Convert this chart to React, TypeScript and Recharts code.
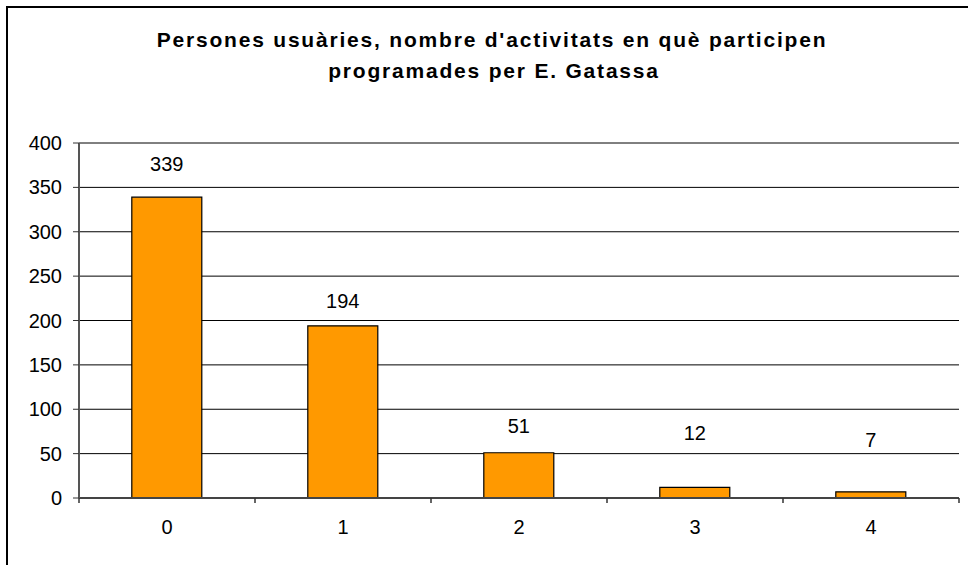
import React from 'react';
import { BarChart, Bar, XAxis, YAxis, CartesianGrid, LabelList } from 'recharts';

const categories = ['0', '1', '2', '3', '4'];
const values = [339, 194, 51, 12, 7];
const yTicks = [0, 50, 100, 150, 200, 250, 300, 350, 400];
const titleLines = [
  "Persones usuàries, nombre d'activitats en què participen",
  'programades per E. Gatassa',
];
// vertical distance (px) of each value label's centre above its bar top
const labelLift = [33, 25, 27, 54, 52];

const data = categories.map((c, i) => ({ cat: c, value: values[i] }));

const FONT = '"Liberation Sans", Arial, sans-serif';

const XTick = (props: any) => {
  const { x, y, payload, index } = props;
  const off = payload && typeof payload.offset === 'number' && payload.offset > 0 ? payload.offset : 88;
  const isLast = index === categories.length - 1;
  return (
    <g>
      <line x1={x - off} y1={y} x2={x - off} y2={y + 5} stroke="#333" strokeWidth={1.5} />
      {isLast && <line x1={x + off} y1={y} x2={x + off} y2={y + 5} stroke="#333" strokeWidth={1.5} />}
      <text x={x} y={y + 22} dy="0.71em" textAnchor="middle" fontSize={20} fontFamily={FONT} fill="#000">
        {payload.value}
      </text>
    </g>
  );
};

const ValueLabel = (props: any) => {
  const { x, y, width, value, index } = props;
  return (
    <text
      x={x + width / 2}
      y={y - labelLift[index]}
      textAnchor="middle"
      dominantBaseline="central"
      fontSize={20}
      fontFamily={FONT}
      fill="#000"
    >
      {value}
    </text>
  );
};

export default function App() {
  return (
    <div style={{ position: 'absolute', left: 0, top: 0, width: 968, height: 565, overflow: 'hidden', background: '#fff' }}>
      <div
        style={{
          position: 'absolute',
          left: 6,
          top: 6,
          width: 1100,
          height: 700,
          border: '2px solid #000',
          boxSizing: 'border-box',
        }}
      />
      <svg style={{ position: 'absolute', left: 0, top: 0 }} width={968} height={110}>
        <text x={492} y={46.7} textAnchor="middle" fontSize={21} letterSpacing={1.8} fontWeight="bold" fontFamily={FONT} fill="#000">
          {titleLines[0]}
        </text>
        <text x={494} y={78.3} textAnchor="middle" fontSize={21} letterSpacing={1.8} fontWeight="bold" fontFamily={FONT} fill="#000">
          {titleLines[1]}
        </text>
      </svg>
      <div style={{ position: 'absolute', left: 0, top: 0 }}>
        <BarChart
          width={968}
          height={565}
          data={data}
          margin={{ top: 143, right: 9, left: 0, bottom: 0 }}
          barCategoryGap="30%"
        >
          <CartesianGrid vertical={false} horizontal stroke="#000" strokeWidth={1} />
          <XAxis
            xAxisId="top"
            orientation="top"
            dataKey="cat"
            height={0}
            tick={false}
            tickLine={false}
            axisLine={{ stroke: '#8c8c8c', strokeWidth: 2 }}
          />
          <YAxis
            yAxisId="right"
            orientation="right"
            width={0}
            domain={[0, 400]}
            ticks={yTicks}
            tick={false}
            tickLine={false}
            axisLine={{ stroke: '#8c8c8c', strokeWidth: 2 }}
          />
          <XAxis
            dataKey="cat"
            height={67}
            tickSize={0}
            tickMargin={0}
            tickLine={false}
            interval={0}
            axisLine={{ stroke: '#444', strokeWidth: 2 }}
            tick={<XTick />}
          />
          <YAxis
            width={79}
            domain={[0, 400]}
            ticks={yTicks}
            interval={0}
            tickSize={6}
            tickMargin={11}
            tickLine={{ stroke: '#333' }}
            axisLine={{ stroke: '#555', strokeWidth: 2 }}
            tick={{ fontSize: 20, fontFamily: FONT, fill: '#000' }}
          />
          <Bar dataKey="value" fill="#FF9900" stroke="#000" strokeWidth={1.2} isAnimationActive={false}>
            <LabelList dataKey="value" content={<ValueLabel />} />
          </Bar>
        </BarChart>
      </div>
    </div>
  );
}
